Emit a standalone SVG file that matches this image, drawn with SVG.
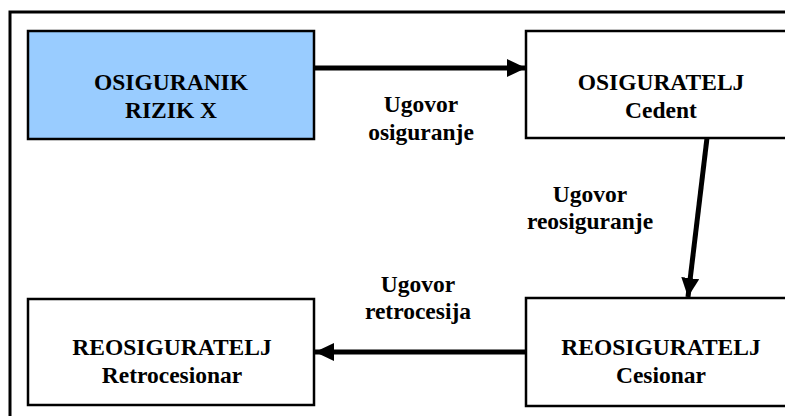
<svg xmlns="http://www.w3.org/2000/svg" width="785" height="416" viewBox="0 0 785 416">
<style>
.box{stroke:#000;stroke-width:2.5;fill:#fff}
.blue{fill:#99CCFF}
text{font-family:'Liberation Serif','Times New Roman','DejaVu Serif',serif;font-weight:bold;font-size:23.5px;text-anchor:middle;fill:#000}
.c{stroke:#000;stroke-width:5;fill:none}
</style>
<defs>
<marker id="ah" markerUnits="userSpaceOnUse" markerWidth="20" markerHeight="18" refX="19" refY="9" orient="auto">
<path d="M0,0 L19,9 L0,18 Z" fill="#000"/>
</marker>
</defs>
<rect width="785" height="416" fill="#fff"/>
<path d="M10,430 L10,12 L800,12" stroke="#000" stroke-width="3" fill="none"/>
<g id="osiguranik">
<rect class="box blue" x="28" y="31" width="286" height="108"/>
<text x="171" y="90">OSIGURANIK</text>
<text x="171" y="118">RIZIK X</text>
</g>
<g id="osiguratelj">
<rect class="box" x="526" y="31" width="270" height="107"/>
<text x="661" y="90">OSIGURATELJ</text>
<text x="661" y="118">Cedent</text>
</g>
<g id="cesionar">
<rect class="box" x="526" y="298" width="270" height="108"/>
<text x="661" y="355">REOSIGURATELJ</text>
<text x="661" y="383">Cesionar</text>
</g>
<g id="retrocesionar">
<rect class="box" x="28" y="299" width="286" height="106"/>
<text x="172" y="355">REOSIGURATELJ</text>
<text x="172" y="383">Retrocesionar</text>
</g>
<g id="connectors">
<line class="c" x1="314" y1="68" x2="526" y2="68" marker-end="url(#ah)"/>
<line class="c" x1="707" y1="138" x2="688" y2="297" marker-end="url(#ah)"/>
<line class="c" x1="526" y1="352" x2="315" y2="352" marker-end="url(#ah)"/>
<text x="421" y="112">Ugovor</text>
<text x="421" y="140">osiguranje</text>
<text x="590" y="202">Ugovor</text>
<text x="590" y="229">reosiguranje</text>
<text x="418" y="292">Ugovor</text>
<text x="418" y="319">retrocesija</text>
</g>
</svg>
